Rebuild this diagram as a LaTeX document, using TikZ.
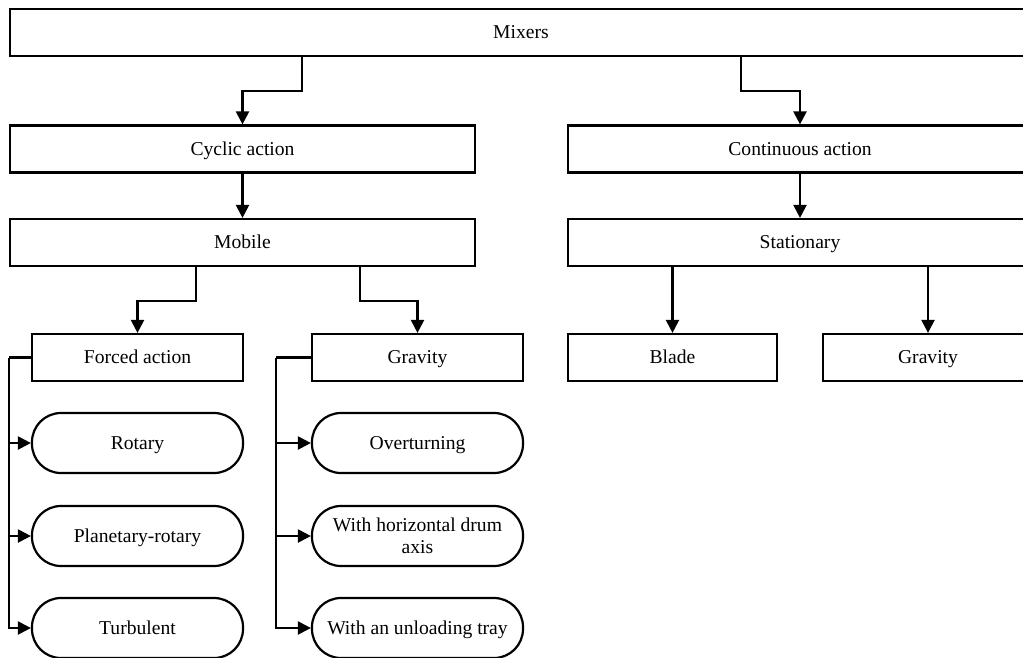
\documentclass[tikz,border=0pt]{standalone}
\usepackage{fontspec}
\setmainfont{Liberation Serif}
\usepackage{tikz}
\usetikzlibrary{arrows.meta,positioning,calc}

\begin{document}
\begin{tikzpicture}[x=1pt, y=-1pt, line width=2.2pt,
    every node/.style={font=\fontsize{19.6pt}{22.5pt}\selectfont},
    oneline/.style={text height=16.5pt,text depth=4.5pt},
    box/.style={draw,rectangle,minimum height=47pt,inner sep=0pt,align=center,oneline},
    pill/.style={draw,rectangle,rounded corners=29pt,minimum width=211pt,
                 minimum height=60pt,inner sep=0pt,align=center},
    arr/.style={-{Triangle[length=13pt,width=13pt]}}]

  \useasboundingbox (0,0) rectangle (1023,657);

  % Top level
  \node[box,minimum width=1022pt] (mixers) at (521,32.5) {Mixers};

  % Second and third levels
  \node[box,minimum width=465pt] (cyclic) at (242.5,149) {Cyclic action};
  \node[box,minimum width=464pt] (cont)   at (800,149)   {Continuous action};
  \node[box,minimum width=465pt] (mobile) at (242.5,242.5) {Mobile};
  \node[box,minimum width=464pt] (stat)   at (800,242.5)   {Stationary};

  % Fourth level
  \node[box,minimum width=211pt] (forced) at (137.5,357.5) {Forced action};
  \node[box,minimum width=211pt] (grav)   at (417.5,357.5) {Gravity};
  \node[box,minimum width=209pt] (blade)  at (672.5,357.5) {Blade};
  \node[box,minimum width=210pt] (statgrav) at (928,357.5) {Gravity};

  % Mixer kinds
  \node[pill,oneline] (rotary) at (137.5,443) {Rotary};
  \node[pill,oneline] (planet) at (137.5,536) {Planetary-rotary};
  \node[pill,oneline] (turb)   at (137.5,628) {Turbulent};
  \node[pill,oneline] (overt)  at (417.5,443) {Overturning};
  \node[pill]         (horiz)  at (417.5,536) {With horizontal drum\\axis};
  \node[pill,oneline] (unload) at (417.5,628) {With an unloading tray};

  % Connectors from the top
  \draw[arr] ([xshift=-219pt]mixers.south) -- ++(0,34) -| (cyclic.north);
  \draw[arr] ([xshift=220pt]mixers.south) -- ++(0,34) -| (cont.north);
  \draw[arr] (cyclic) -- (mobile);
  \draw[arr] (cont) -- (stat);

  % Mobile split
  \draw[arr] ([xshift=-46.5pt]mobile.south) -- ++(0,34) -| (forced.north);
  \draw[arr] ([xshift=117.5pt]mobile.south) -- ++(0,34) -| (grav.north);

  % Stationary split
  \draw[arr] (blade.north |- stat.south) -- (blade.north);
  \draw[arr] (statgrav.north |- stat.south) -- (statgrav.north);

  % Side spines
  \draw (forced.west) -- ++(-22,0) coordinate (fspine);
  \foreach \n in {rotary,planet,turb}
    \draw[arr] (fspine) |- (\n.west);
  \draw (grav.west) -- ++(-35,0) coordinate (gspine);
  \foreach \n in {overt,horiz,unload}
    \draw[arr] (gspine) |- (\n.west);

\end{tikzpicture}
\end{document}
